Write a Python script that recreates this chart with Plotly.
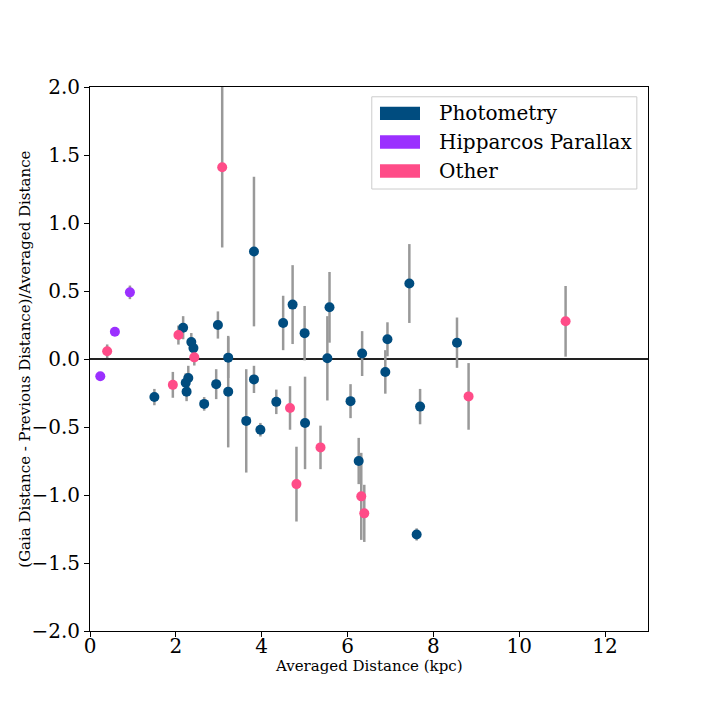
import plotly.graph_objects as go

# Photometry distances
phot_x = [1.50, 2.17, 2.36, 2.41, 2.29, 2.23, 2.25, 2.66, 2.98, 2.94, 3.22, 3.22, 3.64, 3.82, 3.82, 3.97,
          4.34, 4.50, 4.72, 5.00, 5.01, 5.53, 5.58, 6.07, 6.26, 6.34, 6.88, 6.93, 7.44, 7.61, 7.69, 8.55]
phot_y = [-0.28, 0.23, 0.125, 0.08, -0.14, -0.175, -0.24, -0.33, 0.25, -0.185, 0.01, -0.24, -0.455, 0.79, -0.15, -0.52,
          -0.315, 0.265, 0.40, 0.19, -0.47, 0.005, 0.38, -0.31, -0.75, 0.04, -0.095, 0.145, 0.555, -1.29, -0.35, 0.12]
phot_err = [0.06, 0.085, 0.066, 0.06, 0.09, 0.07, 0.07, 0.05, 0.10, 0.11, 0.15, 0.41, 0.38, 0.55, 0.10, 0.05,
            0.09, 0.20, 0.29, 0.20, 0.34, 0.31, 0.26, 0.125, 0.17, 0.165, 0.16, 0.125, 0.29, 0.045, 0.13, 0.185]

# Hipparcos parallax distances
hip_x = [0.24, 0.58, 0.93]
hip_y = [-0.127, 0.20, 0.49]
hip_err = [0.0, 0.02, 0.05]

# Other methods
oth_x = [0.40, 1.93, 2.06, 2.43, 3.08, 4.66, 4.81, 5.37, 6.32, 6.39, 8.82, 11.08]
oth_y = [0.057, -0.19, 0.176, 0.012, 1.41, -0.36, -0.92, -0.65, -1.01, -1.135, -0.275, 0.277]
oth_err = [0.05, 0.095, 0.07, 0.06, 0.59, 0.16, 0.275, 0.16, 0.32, 0.21, 0.245, 0.26]

names = ['Photometry', 'Hipparcos Parallax', 'Other']
colors = ['#004c7f', '#9b30ff', '#ff4c88']
font = 'DejaVu Serif'
groups = list(zip(names, colors, [phot_x, hip_x, oth_x], [phot_y, hip_y, oth_y], [phot_err, hip_err, oth_err]))

fig = go.Figure()
# error bars first so every marker sits on top of them
for name, color, xs, ys, es in groups:
    fig.add_trace(go.Scatter(
        x=xs, y=ys, mode='markers', marker=dict(size=10, opacity=0), hoverinfo='skip',
        error_y=dict(type='data', array=es, color='#999999', thickness=2.5, width=0),
        showlegend=False))
for name, color, xs, ys, es in groups:
    fig.add_trace(go.Scatter(x=xs, y=ys, mode='markers', name=name,
                             marker=dict(color=color, size=10), showlegend=False))

# legend drawn by hand to get matplotlib-like patches
shapes = [dict(type='rect', xref='paper', yref='paper', x0=0.505, x1=0.980, y0=0.8125, y1=0.982,
               line=dict(color='#cccccc', width=1), fillcolor='rgba(255,255,255,0.8)', layer='above')]
annotations = []
rows = [(0.9638, 0.9393, 0.952), (0.9112, 0.8866, 0.899), (0.8579, 0.8333, 0.8456)]
for (y1, y0, yt), name, color in zip(rows, names, colors):
    shapes.append(dict(type='rect', xref='paper', yref='paper', x0=0.5197, x1=0.5914, y0=y0, y1=y1,
                       line=dict(width=0), fillcolor=color, layer='above'))
    annotations.append(dict(text=name, xref='paper', yref='paper', x=0.6213, y=yt, xanchor='left',
                            yanchor='middle', showarrow=False, font=dict(family=font, size=20, color='black')))

# axis titles
annotations.append(dict(text='Averaged Distance (kpc)', xref='paper', yref='paper', x=0.5, y=-0.064,
                        xanchor='center', yanchor='middle', showarrow=False, font=dict(size=15)))
annotations.append(dict(text='(Gaia Distance - Previous Distance)/Averaged Distance', xref='paper',
                        yref='paper', x=-0.117, y=0.5, xanchor='center', yanchor='middle', textangle=-90,
                        showarrow=False, font=dict(size=15)))

fig.update_layout(
    width=720, height=720,
    margin=dict(l=82, r=80, t=79, b=97),
    plot_bgcolor='white', paper_bgcolor='white',
    font=dict(family=font, color='black'),
    shapes=shapes, annotations=annotations,
)
fig.update_xaxes(range=[0, 13], tickvals=[0, 2, 4, 6, 8, 10, 12], showline=True, mirror=True,
                 linecolor='black', linewidth=1, ticks='outside', ticklen=5, tickcolor='black',
                 ticklabelstandoff=-8,
                 showgrid=False, zeroline=False, tickfont=dict(size=20))
fig.update_yaxes(range=[-2, 2], tickvals=[-2, -1.5, -1, -0.5, 0, 0.5, 1, 1.5, 2], tickformat='.1f',
                 showline=True, mirror=True, linecolor='black', linewidth=1, ticks='outside', ticklen=5,
                 tickcolor='black', showgrid=False, zeroline=True, zerolinecolor='#222222', zerolinewidth=2,
                 tickfont=dict(size=20))

fig.write_html('out.html')
